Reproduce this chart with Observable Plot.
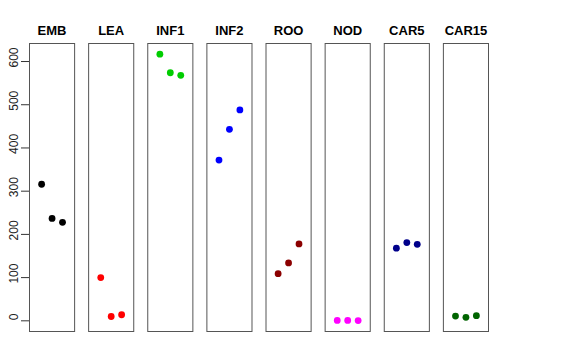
<!DOCTYPE html>
<html><head><meta charset="utf-8">
<script src="https://cdn.jsdelivr.net/npm/d3@7"></script>
<script src="https://cdn.jsdelivr.net/npm/@observablehq/plot@0.6"></script>
<style>body{margin:0;background:#fff}</style>
</head><body><div id="chart"></div>
<script>
const tissues = ["EMB","LEA","INF1","INF2","ROO","NOD","CAR5","CAR15"];
const colors = ["#000000","#ff0000","#00cd00","#0000ff","#8b0000","#ff00ff","#00008b","#006400"];
const replicate = [1, 2, 3];
const EMB   = [316, 237, 228];
const LEA   = [100, 10, 14];
const INF1  = [617, 574, 568];
const INF2  = [372, 443, 488];
const ROO   = [109, 134, 178];
const NOD   = [1, 1, 0.5];
const CAR5  = [168, 181, 177];
const CAR15 = [11, 8, 12];
const yTicks = [0, 100, 200, 300, 400, 500, 600];

const series = [EMB, LEA, INF1, INF2, ROO, NOD, CAR5, CAR15];
const data = [];
tissues.forEach((t, i) => series[i].forEach((v, j) => data.push({tissue: t, rep: replicate[j], value: v})));

const chart = Plot.plot({
  width: 576, height: 360,
  marginLeft: 29, marginRight: 88, marginTop: 43, marginBottom: 29,
  style: {fontFamily: "'Liberation Sans', Arial, Helvetica, sans-serif", background: "#fff"},
  fx: {domain: tissues, paddingInner: 0.237, paddingOuter: 0, round: false},
  x: {domain: [-0.16, 4.16]},
  y: {domain: [-24.7, 641.7]},
  color: {domain: tissues, range: colors},
  marks: [
    Plot.frame({stroke: "#555", strokeWidth: 1}),
    Plot.axisFx({anchor: "top", tickSize: 0, tickPadding: 9, fontSize: 13, fontWeight: "bold", label: null, fill: "#000"}),
    Plot.axisY({ticks: yTicks, tickSize: 8, text: null, label: null, stroke: "#333"}),
    Plot.axisY({ticks: yTicks, tickSize: 0, tickPadding: 14, rotate: -90, textAnchor: "middle", fontSize: 12, dx: -1, dy: -4, label: null, fill: "#222"}),
    Plot.axisX({ticks: [], label: null}),
    Plot.dot(data, {fx: "tissue", x: "rep", y: "value", fill: "tissue", r: 3.4, stroke: null})
  ]
});
document.getElementById("chart").appendChild(chart);
</script>
</body></html>
